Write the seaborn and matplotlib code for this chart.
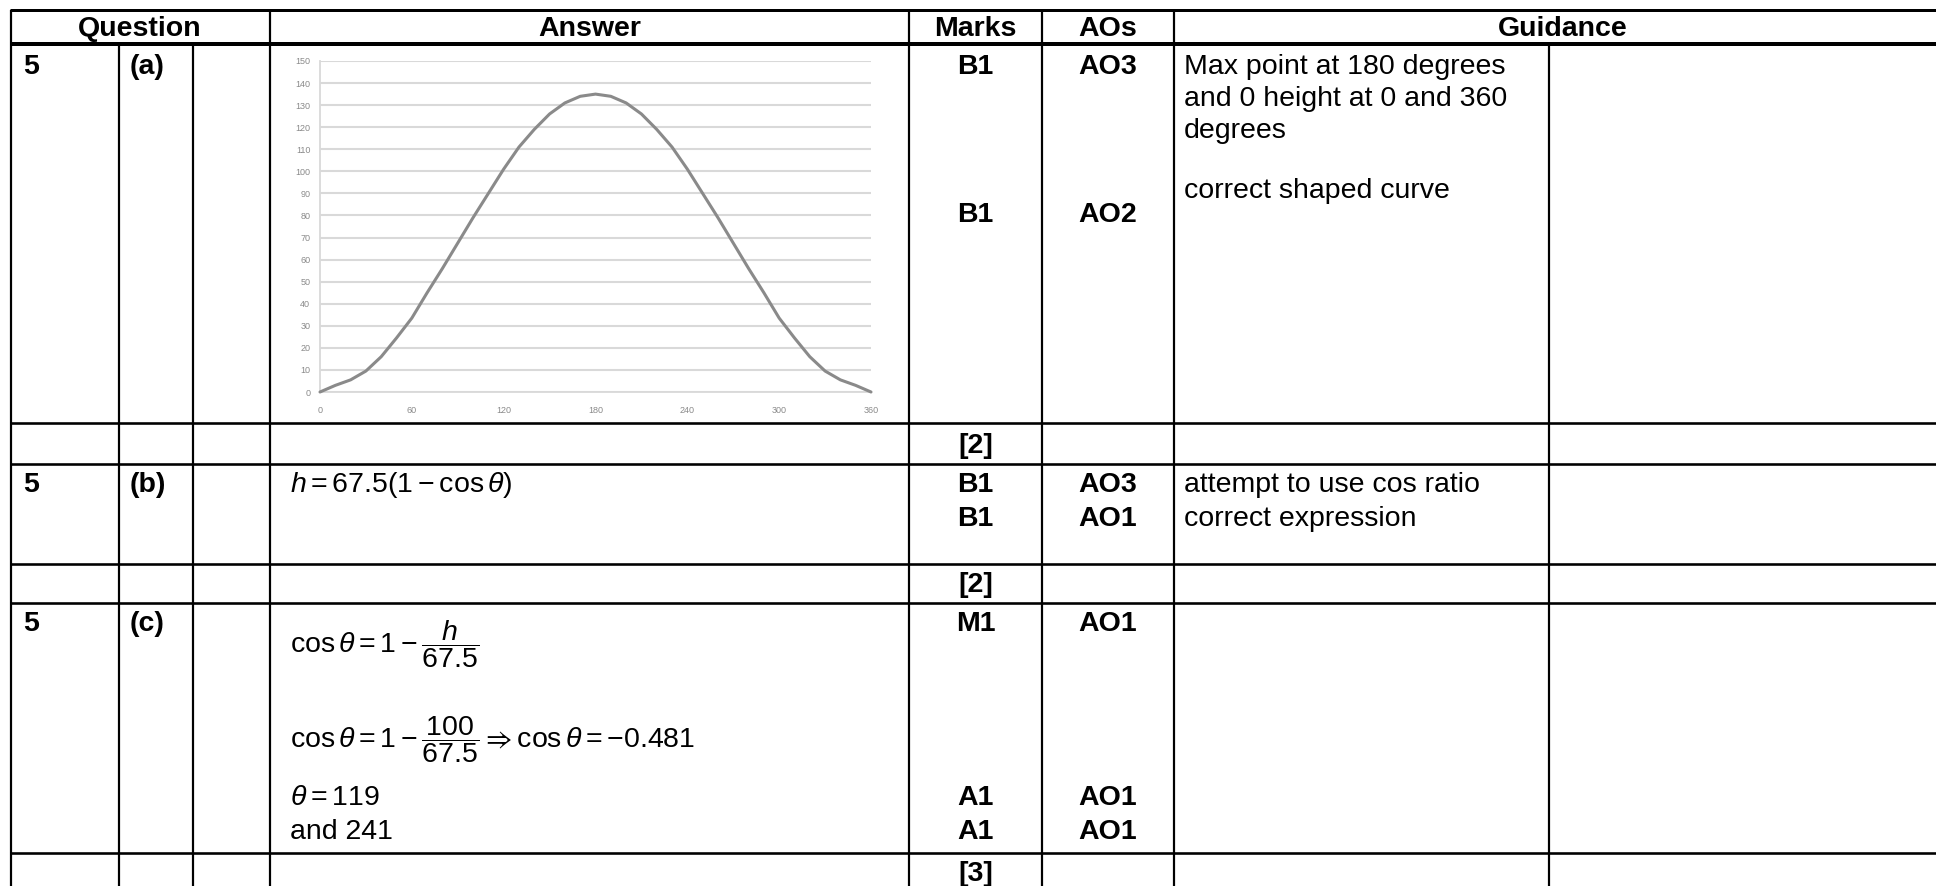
import matplotlib
matplotlib.use("Agg")
import matplotlib.pyplot as plt
import seaborn as sns
import pandas as pd

# ---------------- data ----------------
angles = [0, 10, 20, 30, 40, 50, 60, 70, 80, 90, 100, 110, 120, 130, 140, 150, 160, 170, 180,
          190, 200, 210, 220, 230, 240, 250, 260, 270, 280, 290, 300, 310, 320, 330, 340, 350, 360]
heights = [0, 3, 5.5, 9.5, 16, 24.5, 33.5, 45, 56, 67.5, 79, 90, 101, 111, 119, 126, 131, 134, 135,
           134, 131, 126, 119, 111, 101, 90, 79, 67.5, 56, 45, 33.5, 24.5, 16, 9.5, 5.5, 3, 0]
x_ticks = [0, 60, 120, 180, 240, 300, 360]
y_ticks = [0, 10, 20, 30, 40, 50, 60, 70, 80, 90, 100, 110, 120, 130, 140, 150]

header_labels = ["Question", "Answer", "Marks", "AOs", "Guidance"]
question_nums = ["5", "5", "5"]
question_parts = ["(a)", "(b)", "(c)"]
marks_a = ["B1", "B1"]
aos_a = ["AO3", "AO2"]
guidance_a = ["Max point at 180 degrees", "and 0 height at 0 and 360", "degrees", "correct shaped curve"]
totals = ["[2]", "[2]", "[3]"]
marks_b = ["B1", "B1"]
aos_b = ["AO3", "AO1"]
guidance_b = ["attempt to use cos ratio", "correct expression"]
marks_c = ["M1", "A1", "A1"]
aos_c = ["AO1", "AO1", "AO1"]
answer_b = r"$h = 67.5(1 - \cos\theta)$"
answer_c = [r"$\cos\theta = 1 - \dfrac{h}{67.5}$",
            r"$\cos\theta = 1 - \dfrac{100}{67.5} \Rightarrow \cos\theta = -0.481$",
            r"$\theta = 119$",
            "and 241"]

# ---------------- style ----------------
sns.set_style("white")
plt.rcParams["font.family"] = ["Liberation Sans", "DejaVu Sans"]
plt.rcParams["mathtext.fontset"] = "custom"
plt.rcParams["mathtext.rm"] = "Liberation Sans"
plt.rcParams["mathtext.it"] = "Liberation Sans:italic"
plt.rcParams["mathtext.bf"] = "Liberation Sans:bold"
plt.rcParams["mathtext.fallback"] = "stixsans"

W, H = 1936, 886
DPI = 100
fig = plt.figure(figsize=(W / DPI, H / DPI), dpi=DPI)
fig.patch.set_facecolor("white")

# table layer in pixel coordinates
tab = fig.add_axes([0, 0, 1, 1], zorder=0)
tab.set_xlim(0, W)
tab.set_ylim(H, 0)
tab.axis("off")

def px(v):
    return v * 72.0 / DPI

col_x = [11, 119, 193, 270, 909, 1042, 1174, 1549]
top_y, head_y = 9.5, 44
row_y = [423, 464, 564, 603, 853]

# horizontal lines
tab.hlines(top_y, col_x[0] - 1, W, color="black", lw=px(3))
tab.hlines(head_y, col_x[0] - 1, W, color="black", lw=px(4))
tab.hlines(row_y, col_x[0] - 1, W, color="black", lw=px(2.6))
# vertical lines
tab.vlines([11, 270, 909, 1042, 1174], top_y, head_y, color="black", lw=px(2.2))
tab.vlines(col_x, head_y, H, color="black", lw=px(2.2))

FS = 20.5
def t(x, y, s, bold=False, ha="left", size=FS):
    tab.text(x, y, s, ha=ha, va="baseline", fontsize=size,
             fontweight="bold" if bold else "normal", color="black")

# header
hb = 36
t(140, hb, header_labels[0], True, "center")
t(589.5, hb, header_labels[1], True, "center")
t(975.5, hb, header_labels[2], True, "center")
t(1108, hb, header_labels[3], True, "center")
t(1563, hb, header_labels[4], True, "center")

# question columns
for qn, qp, by in zip(question_nums, question_parts, [74, 492, 631]):
    t(23, by, qn, True)
    t(130, by, qp, True)

# totals
for tot, by in zip(totals, [453, 592, 881]):
    t(975.5, by, tot, True, "center")

# row (a)
for m, a, by in zip(marks_a, aos_a, [74, 222]):
    t(975.5, by, m, True, "center")
    t(1108, by, a, True, "center")
for g, by in zip(guidance_a, [74, 106, 138, 198]):
    t(1184, by, g)

# row (b)
for m, a, g, by in zip(marks_b, aos_b, guidance_b, [492, 526]):
    t(975.5, by, m, True, "center")
    t(1108, by, a, True, "center")
    t(1184, by, g)
t(290, 492, answer_b)

# row (c)
for m, a, by in zip(marks_c, aos_c, [631, 805, 839]):
    t(975.5, by, m, True, "center")
    t(1108, by, a, True, "center")
for s, by in zip(answer_c, [653, 748, 805, 839]):
    t(290, by, s)

# ---------------- chart ----------------
x0, x1, y0, y1 = 320, 871, 392, 61
ax = fig.add_axes([x0 / W, 1 - y0 / H, (x1 - x0) / W, (y0 - y1) / H], zorder=2)
ax.set_facecolor("none")
df = pd.DataFrame({"angle": angles, "height": heights})
sns.lineplot(data=df, x="angle", y="height", ax=ax, color="#8a8a8a", linewidth=2.2,
             clip_on=False, zorder=3)
ax.set_xlim(0, 360)
ax.set_ylim(0, 150)
ax.set_xticks(x_ticks)
ax.set_yticks(y_ticks)
ax.set_xlabel("")
ax.set_ylabel("")
ax.yaxis.grid(True, color="#d9d9d9", lw=1.5)
ax.xaxis.grid(False)
for side in ["top", "right"]:
    ax.spines[side].set_visible(False)
for side in ["left", "bottom"]:
    ax.spines[side].set_color("#d9d9d9")
    ax.spines[side].set_linewidth(1.3)
ax.tick_params(axis="both", which="both", length=4, width=1.1, color="#d9d9d9",
               labelsize=6.5, labelcolor="#8a8a8a", direction="out")
ax.tick_params(axis="y", pad=3)
ax.tick_params(axis="x", pad=6)

fig.savefig("out.png", dpi=DPI, facecolor="white")
